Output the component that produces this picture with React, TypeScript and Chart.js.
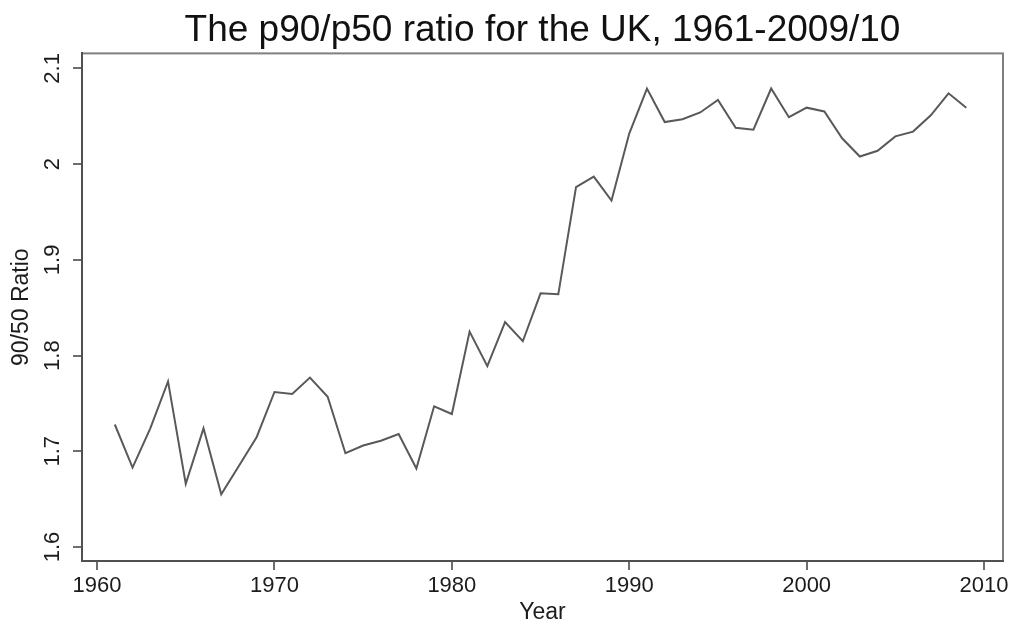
import React, { useEffect, useRef } from "react";
import Chart from "chart.js/auto";

const years = [
  1961, 1962, 1963, 1964, 1965, 1966, 1967, 1968, 1969, 1970,
  1971, 1972, 1973, 1974, 1975, 1976, 1977, 1978, 1979, 1980,
  1981, 1982, 1983, 1984, 1985, 1986, 1987, 1988, 1989, 1990,
  1991, 1992, 1993, 1994, 1995, 1996, 1997, 1998, 1999, 2000,
  2001, 2002, 2003, 2004, 2005, 2006, 2007, 2008, 2009,
];
const ratio9050 = [
  1.728, 1.683, 1.724, 1.773, 1.666, 1.724, 1.655, 1.685, 1.715, 1.762,
  1.760, 1.777, 1.757, 1.698, 1.706, 1.711, 1.718, 1.682, 1.747, 1.739,
  1.825, 1.789, 1.835, 1.815, 1.865, 1.864, 1.976, 1.987, 1.962, 2.032,
  2.079, 2.044, 2.047, 2.054, 2.067, 2.038, 2.036, 2.079, 2.049, 2.059,
  2.055, 2.027, 2.008, 2.014, 2.029, 2.034, 2.051, 2.074, 2.059,
];
const xTicks = [1960, 1970, 1980, 1990, 2000, 2010];
const yTicks = [1.6, 1.7, 1.8, 1.9, 2.0, 2.1];

const titleText = "The p90/p50 ratio for the UK, 1961-2009/10";
const xTitle = "Year";
const yTitle = "90/50 Ratio";

const FONT = "'Liberation Sans', Arial, Helvetica, sans-serif";

const framePlugin = {
  id: "frame",
  beforeDraw(chart: any) {
    const { ctx, chartArea } = chart;
    if (!chartArea) return;
    ctx.save();
    ctx.strokeStyle = "#7f7f7f";
    ctx.lineWidth = 2;
    ctx.strokeRect(
      chartArea.left,
      chartArea.top,
      chartArea.right - chartArea.left,
      chartArea.bottom - chartArea.top
    );
    ctx.restore();
  },
};

export default function App() {
  const ref = useRef<HTMLCanvasElement | null>(null);

  useEffect(() => {
    if (!ref.current) return;
    const chart = new Chart(ref.current, {
      type: "line",
      data: {
        datasets: [
          {
            label: yTitle,
            data: years.map((y, i) => ({ x: y, y: ratio9050[i] })),
            borderColor: "#595959",
            borderWidth: 2,
            pointRadius: 0,
            tension: 0,
            fill: false,
          },
        ],
      },
      plugins: [framePlugin],
      options: {
        responsive: false,
        animation: false,
        layout: { padding: { left: 0, right: 11, top: 0, bottom: 0 } },
        plugins: {
          legend: { display: false },
          tooltip: { enabled: false },
          title: {
            display: true,
            fullSize: false,
            text: titleText,
            color: "#111111",
            font: { family: FONT, size: 37, weight: "normal", lineHeight: 1.2 },
            padding: { top: 9, bottom: 0 },
          },
        },
        scales: {
          x: {
            type: "linear",
            min: 1959.15,
            max: 2011.07,
            afterBuildTicks: (s: any) => {
              s.ticks = xTicks.map((v) => ({ value: v }));
            },
            afterFit: (s: any) => {
              s.height = 62;
            },
            grid: {
              display: true,
              drawOnChartArea: false,
              drawTicks: true,
              tickLength: 9,
              tickColor: "#6e6e6e",
              lineWidth: 2,
            },
            border: { display: true, color: "#505050", width: 2 },
            ticks: {
              color: "#1c1c1c",
              font: { family: FONT, size: 22 },
              padding: 3,
              maxRotation: 0,
              minRotation: 0,
              callback: (v: any) => String(v),
            },
            title: {
              display: true,
              text: xTitle,
              color: "#1c1c1c",
              font: { family: FONT, size: 23, lineHeight: 0.9 },
              padding: { top: 0, bottom: 0 },
            },
          },
          y: {
            type: "linear",
            min: 1.5854,
            max: 2.1157,
            afterBuildTicks: (s: any) => {
              s.ticks = yTicks.map((v) => ({ value: v }));
            },
            afterFit: (s: any) => {
              s.width = 82;
            },
            grid: {
              display: true,
              drawOnChartArea: false,
              drawTicks: true,
              tickLength: 9,
              tickColor: "#6e6e6e",
              lineWidth: 2,
            },
            border: { display: true, color: "#505050", width: 2 },
            ticks: {
              color: "#1c1c1c",
              font: { family: FONT, size: 22 },
              padding: 5,
              minRotation: 90,
              maxRotation: 90,
              crossAlign: "center",
              callback: (v: any) => (Number(v) === 2 ? "2" : Number(v).toFixed(1)),
            },
            title: {
              display: true,
              text: yTitle,
              color: "#1c1c1c",
              font: { family: FONT, size: 23, lineHeight: 0.9 },
              padding: { top: 11, bottom: 0 },
            },
          },
        },
      },
    });
    return () => chart.destroy();
  }, []);

  return (
    <div style={{ position: "fixed", left: 0, top: 0, width: 1014, height: 623, background: "#ffffff" }}>
      <canvas ref={ref} width={1014} height={623} />
    </div>
  );
}
